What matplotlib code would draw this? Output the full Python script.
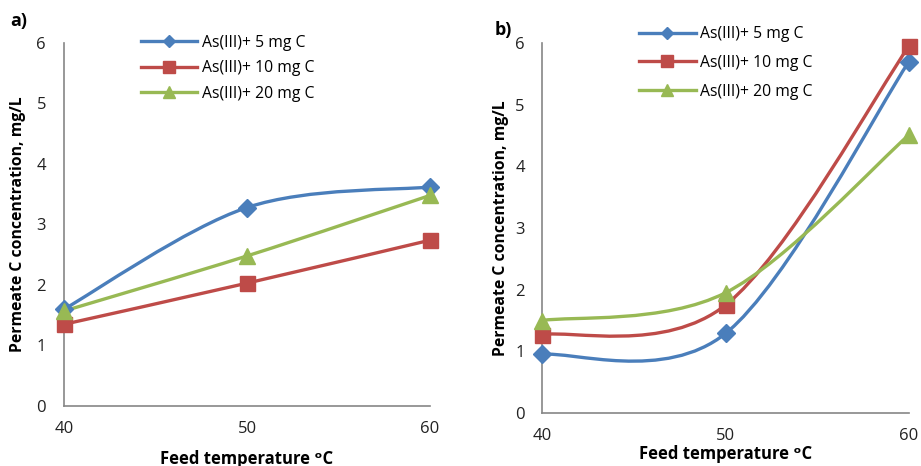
import matplotlib
matplotlib.use("Agg")
import matplotlib.pyplot as plt
from matplotlib.path import Path
from matplotlib.patches import PathPatch
from matplotlib.lines import Line2D

plt.rcParams['font.family'] = ['Open Sans', 'DejaVu Sans']

temps = [40, 50, 60]
series_labels = ["As(III)+ 5 mg C", "As(III)+ 10 mg C", "As(III)+ 20 mg C"]

a_5mg = [1.60, 3.28, 3.62]
a_10mg = [1.35, 2.03, 2.74]
a_20mg = [1.57, 2.48, 3.48]

b_5mg = [0.95, 1.29, 5.70]
b_10mg = [1.27, 1.75, 5.95]
b_20mg = [1.50, 1.95, 4.51]

y_ticks = [0, 1, 2, 3, 4, 5, 6]
x_ticks = [40, 50, 60]

colors = ["#4A7EBB", "#BE4B48", "#98B954"]
markers = ["D", "s", "^"]
msizes = [9.5, 10.8, 11.5]
leg_msizes = [6.5, 8.5, 8.5]


def smooth_path(xs, ys):
    pts = list(zip(xs, ys))
    n = len(pts)
    verts = [pts[0]]
    codes = [Path.MOVETO]
    for i in range(n - 1):
        p0 = pts[i - 1] if i > 0 else pts[i]
        p1 = pts[i]
        p2 = pts[i + 1]
        p3 = pts[i + 2] if i + 2 < n else pts[i + 1]
        c1 = (p1[0] + (p2[0] - p0[0]) / 6, p1[1] + (p2[1] - p0[1]) / 6)
        c2 = (p2[0] - (p3[0] - p1[0]) / 6, p2[1] - (p3[1] - p1[1]) / 6)
        verts += [c1, c2, p2]
        codes += [Path.CURVE4] * 3
    return Path(verts, codes)


fig = plt.figure(figsize=(9.21, 4.66), dpi=100)

panels = [
    dict(rect=[0.0695, 0.1288, 0.3974, 0.7790], data=[a_5mg, a_10mg, a_20mg],
         tag="a)", tagpos=(0.011, 0.955), ypad=13, xpad=10.5, xlabpad=10,
         ylabx=0.020, legpos=(0.153, 0.925), lspace=0.6),
    dict(rect=[0.5885, 0.1137, 0.3985, 0.7940], data=[b_5mg, b_10mg, b_20mg],
         tag="b)", tagpos=(0.537, 0.935), ypad=12.3, xpad=10.5, xlabpad=1,
         ylabx=0.5435, legpos=(0.694, 0.944), lspace=0.82),
]

for p in panels:
    ax = fig.add_axes(p["rect"])
    for vals, c, m, ms in zip(p["data"], colors, markers, msizes):
        patch = PathPatch(smooth_path(temps, vals), facecolor='none', edgecolor=c,
                          lw=2.4, clip_on=False, zorder=2)
        ax.add_patch(patch)
        ax.plot(temps, vals, linestyle='none', marker=m, ms=ms, color=c,
                clip_on=False, zorder=3)
    ax.set_xlim(40, 60)
    ax.set_ylim(0, 6)
    ax.set_xticks(x_ticks)
    ax.set_yticks(y_ticks)
    ax.tick_params(axis='both', length=0, labelsize=12, colors='#222222')
    ax.tick_params(axis='y', pad=p["ypad"])
    ax.tick_params(axis='x', pad=p["xpad"])
    for s in ['top', 'right']:
        ax.spines[s].set_visible(False)
    for s in ['left', 'bottom']:
        ax.spines[s].set_color('#868686')
        ax.spines[s].set_linewidth(1.2)
    ax.set_xlabel("Feed temperature ᵒC", fontsize=12, fontweight='bold',
                  labelpad=p["xlabpad"])
    fig.text(p["ylabx"], p["rect"][1] + p["rect"][3] / 2,
             "Permeate C concentration, mg/L", rotation=90, fontsize=11.3,
             fontweight='bold', ha='center', va='center')
    fig.text(p["tagpos"][0], p["tagpos"][1], p["tag"], fontsize=13,
             fontweight='bold', ha='left', va='center')
    handles = [Line2D([], [], color=c, lw=2.4, marker=m, ms=ms)
               for c, m, ms in zip(colors, markers, leg_msizes)]
    ax.legend(handles, series_labels, loc='upper left',
              bbox_to_anchor=p["legpos"], bbox_transform=fig.transFigure,
              frameon=False, fontsize=11.3, handlelength=3.6, handletextpad=0.3,
              labelspacing=p["lspace"], borderaxespad=0, borderpad=0)

fig.savefig("out.png", dpi=100)
